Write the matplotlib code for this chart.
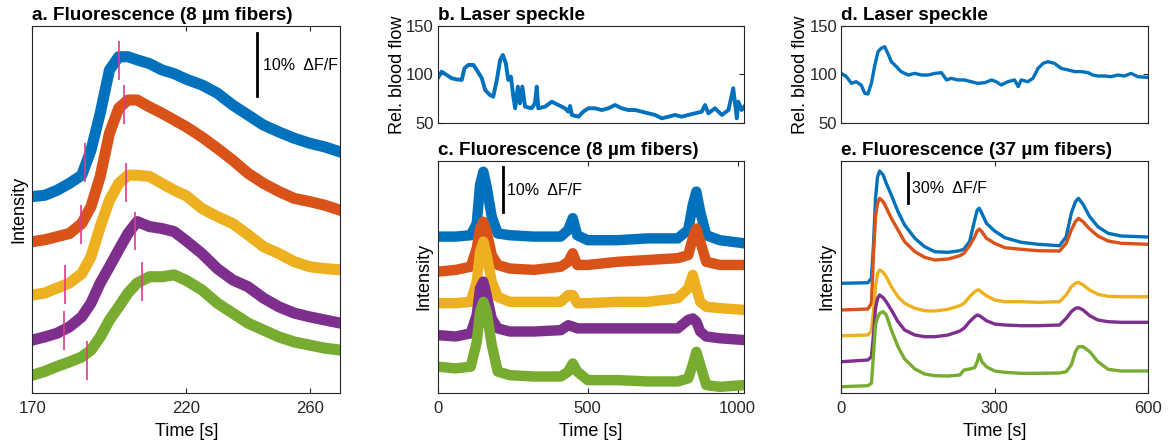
import numpy as np
import matplotlib.pyplot as plt

plt.rcParams['font.family'] = ['Liberation Sans', 'DejaVu Sans']

colors = ['#0072BD', '#D95319', '#EDB120', '#7E2F8E', '#77AC30']
mark_color = '#DC3C8C'
axis_color = '#262626'

# a. fluorescence, 8 um fibers, zoom on first event (units: % dF/F, stacked)
t_a = [170, 174, 178, 182, 186, 189, 192, 195, 198, 201, 204, 208, 212,
       216, 220, 225, 230, 235, 240, 245, 250, 255, 260, 265, 270]
a_blue = [31.3, 31.5, 32.3, 33.4, 34.7, 38.7, 44.6, 51.5, 53.6, 53.6, 53.1, 52.5, 51.5,
          50.9, 50.0, 49.1, 47.8, 45.9, 44.3, 42.7, 41.6, 40.6, 39.8, 39.2, 38.4]
a_orange = [24.1, 24.4, 24.9, 25.4, 27.0, 29.7, 34.5, 41.4, 45.4, 46.7, 46.7, 45.6, 44.6,
            43.5, 42.4, 40.8, 39.0, 37.1, 35.0, 33.4, 32.1, 31.0, 30.5, 29.9, 29.1]
a_yellow = [15.6, 15.9, 16.7, 17.5, 19.0, 21.7, 26.5, 30.7, 33.4, 34.7, 34.7, 34.5, 33.4,
            32.3, 31.4, 29.4, 28.1, 27.0, 25.2, 23.3, 22.2, 20.9, 20.1, 19.8, 19.6]
a_purple = [8.4, 8.9, 9.5, 10.5, 12.1, 14.3, 17.5, 20.1, 22.8, 25.4, 27.3, 26.5, 26.2,
            25.7, 24.2, 22.2, 19.8, 18.0, 16.9, 15.1, 13.7, 12.7, 12.1, 11.6, 11.1]
a_green = [2.8, 3.4, 4.2, 4.9, 5.7, 6.8, 8.9, 11.6, 13.7, 15.9, 17.5, 18.5, 18.5,
           18.8, 17.9, 16.4, 14.3, 12.7, 11.1, 10.0, 8.9, 8.1, 7.6, 7.1, 6.8]
# onset / peak markers per trace
onset_t = [187.1, 185.7, 180.5, 180.1, 187.7]
onset_y = [36.7, 26.9, 17.3, 9.9, 5.1]
peak_t = [198.0, 199.8, 200.4, 203.2, 205.6]
peak_y = [53.0, 46.0, 33.5, 25.8, 17.7]

# b. laser speckle, 8 um experiment
t_b = [0, 13, 30, 47, 63, 80, 89, 102, 119, 130, 147, 158, 174, 185, 197, 208, 217,
       227, 235, 244, 252, 258, 267, 274, 282, 291, 313, 324, 330, 335, 358, 380, 402,
       424, 435, 441, 447, 469, 485, 502, 524, 547, 569, 591, 613, 635, 658, 680, 702,
       724, 747, 769, 791, 813, 835, 858, 880, 891, 902, 924, 947, 969, 985, 997, 1002,
       1013, 1022]
b_flow = [95.9, 102.8, 99.3, 95.9, 94.8, 94.2, 106.2, 109.7, 109.7, 104.5, 95.9, 83.8,
          78.6, 76.9, 94.2, 114.8, 120.0, 111.4, 94.2, 97.6, 76.9, 64.9, 87.3, 70.0, 87.3,
          66.6, 64.9, 70.0, 87.3, 64.9, 66.6, 71.7, 68.3, 64.9, 61.4, 67.3, 58.0, 56.2,
          61.4, 64.9, 64.9, 63.1, 64.9, 68.3, 64.9, 63.1, 63.1, 61.4, 59.7, 58.0, 54.5,
          56.2, 58.0, 56.2, 58.0, 59.7, 61.4, 68.3, 59.7, 64.9, 58.0, 63.1, 85.6, 54.5,
          71.7, 63.1, 66.6]

# c. fluorescence, 8 um fibers, full recording
t_c = [0, 60, 110, 130, 141, 152, 163, 180, 200, 240, 320, 410, 435, 450, 465, 500,
       600, 700, 800, 835, 850, 862, 875, 895, 940, 1022]
c_blue = [34.7, 34.7, 35.0, 37.6, 46.2, 49.1, 45.8, 39.1, 35.4, 35.0, 34.7, 34.7, 36.2,
          38.8, 35.0, 33.9, 33.9, 34.3, 34.3, 36.2, 41.7, 44.7, 40.2, 35.0, 33.9, 33.2]
c_orange = [26.9, 27.3, 28.0, 32.1, 36.5, 38.0, 35.8, 30.6, 28.4, 27.6, 27.3, 28.0, 29.1,
            31.0, 28.4, 28.4, 29.1, 29.5, 29.9, 30.6, 34.3, 36.5, 33.6, 29.1, 28.4, 28.4]
c_yellow = [19.9, 19.9, 20.2, 24.7, 31.3, 33.6, 30.6, 24.7, 21.3, 20.2, 20.2, 20.2, 21.7,
            21.7, 19.9, 19.9, 20.2, 20.2, 21.0, 23.2, 26.2, 23.2, 20.2, 19.1, 18.8, 18.4]
c_purple = [12.8, 12.5, 13.2, 17.3, 23.2, 24.7, 21.7, 16.5, 14.3, 13.6, 13.6, 13.9, 15.0,
            14.7, 14.3, 14.3, 14.3, 14.3, 14.3, 16.2, 16.5, 15.8, 13.6, 12.5, 12.1, 11.7]
c_green = [5.8, 5.4, 5.8, 11.3, 18.0, 20.2, 18.0, 10.6, 4.7, 3.9, 3.6, 3.6, 4.7,
           6.5, 4.7, 2.8, 2.8, 2.5, 2.5, 3.2, 6.2, 9.1, 6.2, 1.7, 1.3, 1.7]

# d. laser speckle, 37 um experiment
t_d = [0, 10, 20, 29, 39, 46, 52, 59, 65, 72, 78, 85, 91, 98, 108, 117, 131, 144, 157,
       170, 183, 196, 206, 215, 228, 241, 254, 267, 281, 294, 303, 313, 326, 339, 346,
       352, 365, 375, 385, 395, 404, 417, 430, 444, 457, 470, 483, 492, 502, 515, 528,
       541, 554, 567, 580, 597]
d_flow = [101.0, 97.6, 90.7, 92.4, 89.0, 80.4, 79.7, 90.7, 107.9, 123.5, 126.9, 128.6,
          121.7, 113.1, 107.9, 102.8, 99.3, 101.0, 99.3, 99.3, 101.0, 101.7, 94.2, 95.9,
          94.2, 94.2, 92.4, 90.7, 91.4, 94.2, 92.4, 89.0, 92.4, 94.2, 87.3, 94.2, 92.4,
          95.9, 106.2, 111.4, 113.1, 111.4, 106.2, 104.5, 102.8, 102.8, 101.7, 99.3,
          98.3, 98.3, 97.6, 99.3, 98.3, 101.0, 97.6, 96.9]

# e. fluorescence, 37 um fibers (units: % dF/F, stacked)
t_e = [0, 52, 59, 63, 67, 71, 75, 82, 88, 98, 111, 124, 144, 163, 183, 209, 232, 240,
       251, 261, 266, 270, 275, 284, 300, 320, 352, 385, 427, 440, 450, 458, 464, 473,
       486, 502, 522, 548, 600]
e_blue = [109.4, 110.0, 114.4, 147.7, 194.4, 216.0, 221.7, 217.7, 209.4, 197.7, 181.0,
          167.7, 154.4, 146.0, 141.0, 140.4, 142.0, 143.7, 151.0, 172.7, 182.7, 184.4,
          179.4, 169.4, 161.7, 155.0, 150.4, 148.4, 147.0, 156.0, 179.4, 191.0, 194.4,
          188.4, 176.0, 166.0, 159.4, 156.7, 155.7]
e_orange = [82.7, 83.7, 89.4, 137.7, 176.0, 189.4, 194.4, 191.0, 185.0, 174.4, 162.7,
            151.0, 141.0, 135.4, 132.7, 133.7, 137.0, 139.4, 147.0, 156.0, 161.7, 163.7,
            161.0, 154.4, 149.4, 145.0, 143.4, 142.0, 141.7, 149.4, 162.7, 171.0, 174.4,
            171.0, 163.7, 156.7, 151.7, 149.4, 148.4]
e_yellow = [57.0, 57.7, 61.7, 81.0, 106.0, 119.4, 122.7, 120.4, 116.0, 106.0, 96.0, 89.4,
            84.4, 82.0, 81.7, 83.4, 87.0, 89.4, 96.0, 101.0, 102.7, 102.7, 100.4, 97.0,
            92.7, 91.0, 91.0, 90.4, 91.0, 97.7, 106.0, 109.4, 110.4, 107.7, 102.7, 98.4,
            96.4, 96.0, 96.0]
e_purple = [31.0, 32.7, 36.0, 57.7, 84.4, 94.4, 97.7, 95.0, 91.0, 82.7, 71.0, 62.7, 57.7,
            56.0, 56.0, 57.7, 61.7, 64.4, 71.0, 76.0, 77.7, 77.0, 75.4, 72.0, 68.7, 67.7,
            67.0, 67.0, 67.7, 74.4, 81.0, 84.4, 85.0, 82.7, 77.0, 72.7, 71.0, 70.4, 70.4]
e_green = [6.0, 7.0, 9.4, 37.7, 67.7, 75.0, 79.4, 81.0, 77.7, 62.7, 46.0, 33.7, 23.7,
           18.7, 17.0, 16.7, 17.7, 22.7, 23.7, 25.0, 31.0, 38.4, 31.0, 26.0, 21.7, 20.4,
           19.4, 19.4, 19.7, 21.0, 27.7, 41.0, 46.0, 46.0, 41.0, 31.0, 23.4, 21.7, 21.7]


def style(ax):
    for s in ax.spines.values():
        s.set_color(axis_color)
        s.set_linewidth(0.8)
    ax.tick_params(direction='in', length=3.5, width=0.8, colors=axis_color,
                   labelsize=12, pad=6, top=True, right=True)


def title(ax, s):
    ax.set_title(s, loc='left', fontsize=13.6, fontweight='bold', pad=4)


fig = plt.figure(figsize=(11.72, 4.45), dpi=100)
ax_a = fig.add_axes([0.0277, 0.1175, 0.2628, 0.824])
ax_b = fig.add_axes([0.3735, 0.7243, 0.2616, 0.2173])
ax_c = fig.add_axes([0.3735, 0.1175, 0.2616, 0.5207])
ax_d = fig.add_axes([0.7178, 0.7243, 0.2617, 0.2173])
ax_e = fig.add_axes([0.7178, 0.1175, 0.2617, 0.5207])

# panel a
for y, c in zip([a_blue, a_orange, a_yellow, a_purple, a_green], colors):
    ax_a.plot(t_a, y, color=c, lw=8, solid_joinstyle='round')
ax_a.vlines(onset_t, np.array(onset_y) - 3.1, np.array(onset_y) + 3.1, color=mark_color, lw=1.2)
ax_a.vlines(peak_t, np.array(peak_y) - 3.1, np.array(peak_y) + 3.1, color=mark_color, lw=1.2)
ax_a.plot([243, 243], [47.4, 57.4], color='k', lw=2)
ax_a.text(245, 52.2, '10%  ΔF/F', fontsize=11.5, va='center', ha='left')
ax_a.set_xlim(170, 270)
ax_a.set_ylim(0, 58.5)
ax_a.set_xticks([170, 220, 260])
ax_a.set_yticks([])
ax_a.set_xlabel('Time [s]', fontsize=13, labelpad=5)
ax_a.set_ylabel('Intensity', fontsize=13, labelpad=4)
style(ax_a)
title(ax_a, 'a. Fluorescence (8 µm fibers)')

# panel b
ax_b.plot(t_b, b_flow, color=colors[0], lw=2.8)
ax_b.set_xlim(0, 1022)
ax_b.set_ylim(50, 150)
ax_b.set_yticks([50, 100, 150])
ax_b.set_xticks([])
ax_b.set_ylabel('Rel. blood flow', fontsize=13, labelpad=0)
style(ax_b)
ax_b.tick_params(pad=3)
title(ax_b, 'b. Laser speckle')

# panel c
for y, c in zip([c_blue, c_orange, c_yellow, c_purple, c_green], colors):
    ax_c.plot(t_c, y, color=c, lw=7.5, solid_joinstyle='round')
ax_c.plot([219, 219], [40.2, 50.2], color='k', lw=2)
ax_c.text(232, 45.0, '10%  ΔF/F', fontsize=11.5, va='center', ha='left')
ax_c.set_xlim(0, 1022)
ax_c.set_ylim(0, 51.5)
ax_c.set_xticks([0, 500, 1000])
ax_c.set_yticks([])
ax_c.set_xlabel('Time [s]', fontsize=13, labelpad=5)
ax_c.set_ylabel('Intensity', fontsize=13, labelpad=4)
style(ax_c)
title(ax_c, 'c. Fluorescence (8 µm fibers)')

# panel d
ax_d.plot(t_d, d_flow, color=colors[0], lw=2.4)
ax_d.set_xlim(0, 600)
ax_d.set_ylim(50, 150)
ax_d.set_yticks([50, 100, 150])
ax_d.set_xticks([])
ax_d.set_ylabel('Rel. blood flow', fontsize=13, labelpad=0)
style(ax_d)
ax_d.tick_params(pad=3)
title(ax_d, 'd. Laser speckle')

# panel e
for y, c in zip([e_blue, e_orange, e_yellow, e_purple, e_green], colors):
    ax_e.plot(t_e, y, color=c, lw=2.4)
ax_e.plot([130, 130], [189.4, 219.4], color='k', lw=2)
ax_e.text(138, 204.4, '30%  ΔF/F', fontsize=11.5, va='center', ha='left')
ax_e.set_xlim(0, 600)
ax_e.set_ylim(0, 231.7)
ax_e.set_xticks([0, 300, 600])
ax_e.set_yticks([])
ax_e.set_xlabel('Time [s]', fontsize=13, labelpad=5)
ax_e.set_ylabel('Intensity', fontsize=13, labelpad=4)
style(ax_e)
title(ax_e, 'e. Fluorescence (37 µm fibers)')

fig.savefig('out.png', dpi=100)
